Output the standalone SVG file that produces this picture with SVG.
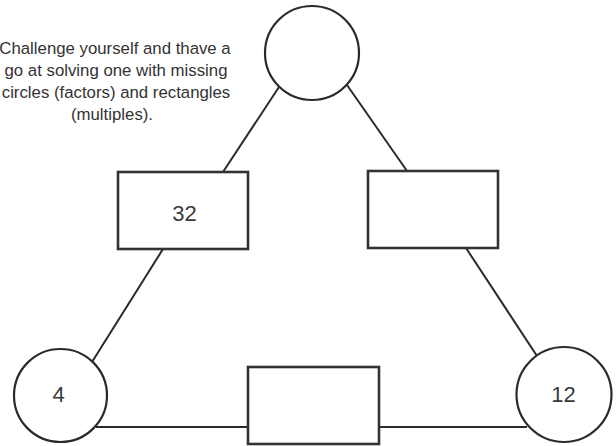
<svg xmlns="http://www.w3.org/2000/svg" width="616" height="446" viewBox="0 0 616 446">
<style>
.node{fill:#fff;stroke:#2a2a2a;stroke-width:2.2}
.box{fill:#fff;stroke:#333;stroke-width:2.6}
.conn{stroke:#2a2a2a;stroke-width:2;fill:none}
.lbl{font-family:"Liberation Sans",Arial,sans-serif;font-size:22px;fill:#3a3a3a;text-anchor:middle}
.note{font-family:"Liberation Sans",Arial,sans-serif;font-size:16.8px;fill:#333;text-anchor:middle}
</style>
<rect width="616" height="446" fill="#fff"/>
<g id="connectors">
<line class="conn" x1="279" y1="87" x2="223" y2="172"/>
<line class="conn" x1="347" y1="85" x2="407" y2="171"/>
<line class="conn" x1="163" y1="249" x2="92" y2="362"/>
<line class="conn" x1="466" y1="248" x2="537" y2="356"/>
<line class="conn" x1="96" y1="427" x2="248" y2="427"/>
<line class="conn" x1="379" y1="427" x2="527" y2="427"/>
</g>
<g id="note">
<text class="note" x="115" y="54">Challenge yourself and thave a</text>
<text class="note" x="116" y="76">go at solving one with missing</text>
<text class="note" x="116" y="98">circles (factors) and rectangles</text>
<text class="note" x="112" y="120">(multiples).</text>
</g>
<g id="top-circle"><circle class="node" cx="312" cy="53" r="47"/></g>
<g id="rect-32"><rect class="box" x="118" y="172" width="130" height="77"/><text class="lbl" x="184.5" y="221">32</text></g>
<g id="rect-right"><rect class="box" x="368" y="171" width="130" height="77"/></g>
<g id="circle-4"><circle class="node" cx="60.5" cy="395.5" r="46.5"/><text class="lbl" x="58.5" y="402">4</text></g>
<g id="rect-bottom"><rect class="box" x="248" y="367" width="131" height="77"/></g>
<g id="circle-12"><circle class="node" cx="564" cy="394.5" r="47.5"/><text class="lbl" x="563.5" y="402">12</text></g>
</svg>
